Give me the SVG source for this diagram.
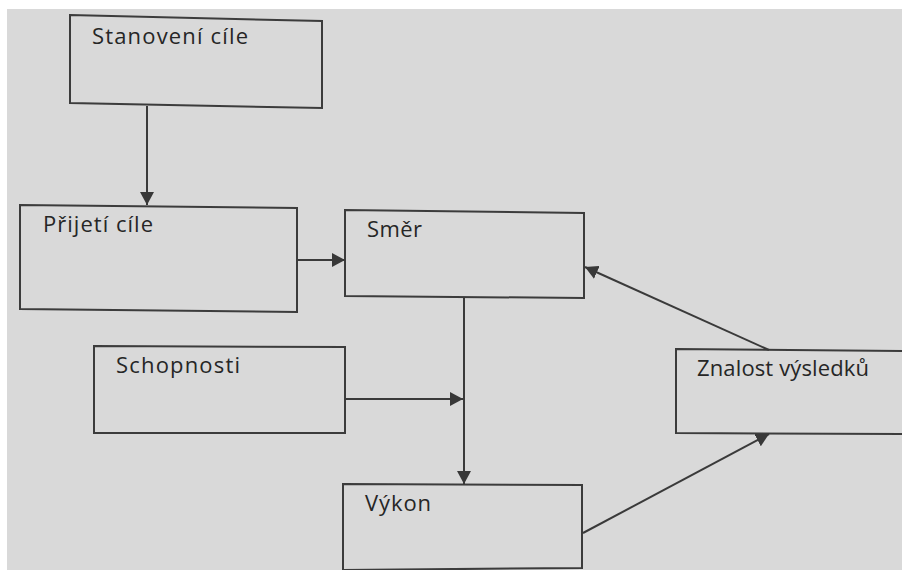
<svg xmlns="http://www.w3.org/2000/svg" width="902" height="570" viewBox="0 0 902 570">
<defs>
<marker id="ah" viewBox="0 0 13 14" refX="13" refY="7" markerWidth="13" markerHeight="14" markerUnits="userSpaceOnUse" orient="auto">
<path d="M0,0 L13,7 L0,14 Z" fill="#383838"/>
</marker>
</defs>
<style>
.box{fill:none;stroke:#3c3c3c;stroke-width:2}
.lbl{font-family:"Open Sans","Liberation Sans",sans-serif;font-size:22px;fill:#262626}
.con{fill:none;stroke:#3a3a3a;stroke-width:2}
</style>
<rect x="0" y="0" width="902" height="570" fill="#ffffff"/>
<rect x="7" y="9" width="895" height="561" fill="#d9d9d9"/>
<g id="n-stanoveni">
<path class="box" d="M70,15 L322,21 L322,108 L70,103 Z"/>
<text class="lbl" x="92" y="44" textLength="156" lengthAdjust="spacing">Stanovení cíle</text>
</g>
<g id="n-prijeti">
<path class="box" d="M20,205 L297,208 L297,312 L20,309 Z"/>
<text class="lbl" x="43" y="232" textLength="110" lengthAdjust="spacing">Přijetí cíle</text>
</g>
<g id="n-smer">
<path class="box" d="M345,210 L584,213 L584,298 L345,296 Z"/>
<text class="lbl" x="367" y="237" textLength="55" lengthAdjust="spacing">Směr</text>
</g>
<g id="n-schopnosti">
<path class="box" d="M94,346 L345,347 L345,433 L94,433 Z"/>
<text class="lbl" x="116" y="373" textLength="124" lengthAdjust="spacing">Schopnosti</text>
</g>
<g id="n-vykon">
<path class="box" d="M343,484 L582,485 L582,568 L343,570 Z"/>
<text class="lbl" x="365" y="511" textLength="66" lengthAdjust="spacing">Výkon</text>
</g>
<g id="n-znalost">
<path class="box" d="M676,349 L905,351 L905,434 L676,433 Z"/>
<text class="lbl" x="697" y="376" textLength="172" lengthAdjust="spacing">Znalost výsledků</text>
</g>
<g id="connectors">
<line class="con" x1="147" y1="106" x2="147" y2="205" marker-end="url(#ah)"/>
<line class="con" x1="297" y1="260" x2="345" y2="260" marker-end="url(#ah)"/>
<line class="con" x1="464" y1="297" x2="464" y2="484" marker-end="url(#ah)"/>
<line class="con" x1="345" y1="399" x2="463" y2="399" marker-end="url(#ah)"/>
<line class="con" x1="583" y1="533" x2="769" y2="434" marker-end="url(#ah)"/>
<line class="con" x1="769" y1="350" x2="585" y2="267" marker-end="url(#ah)"/>
</g>
</svg>
